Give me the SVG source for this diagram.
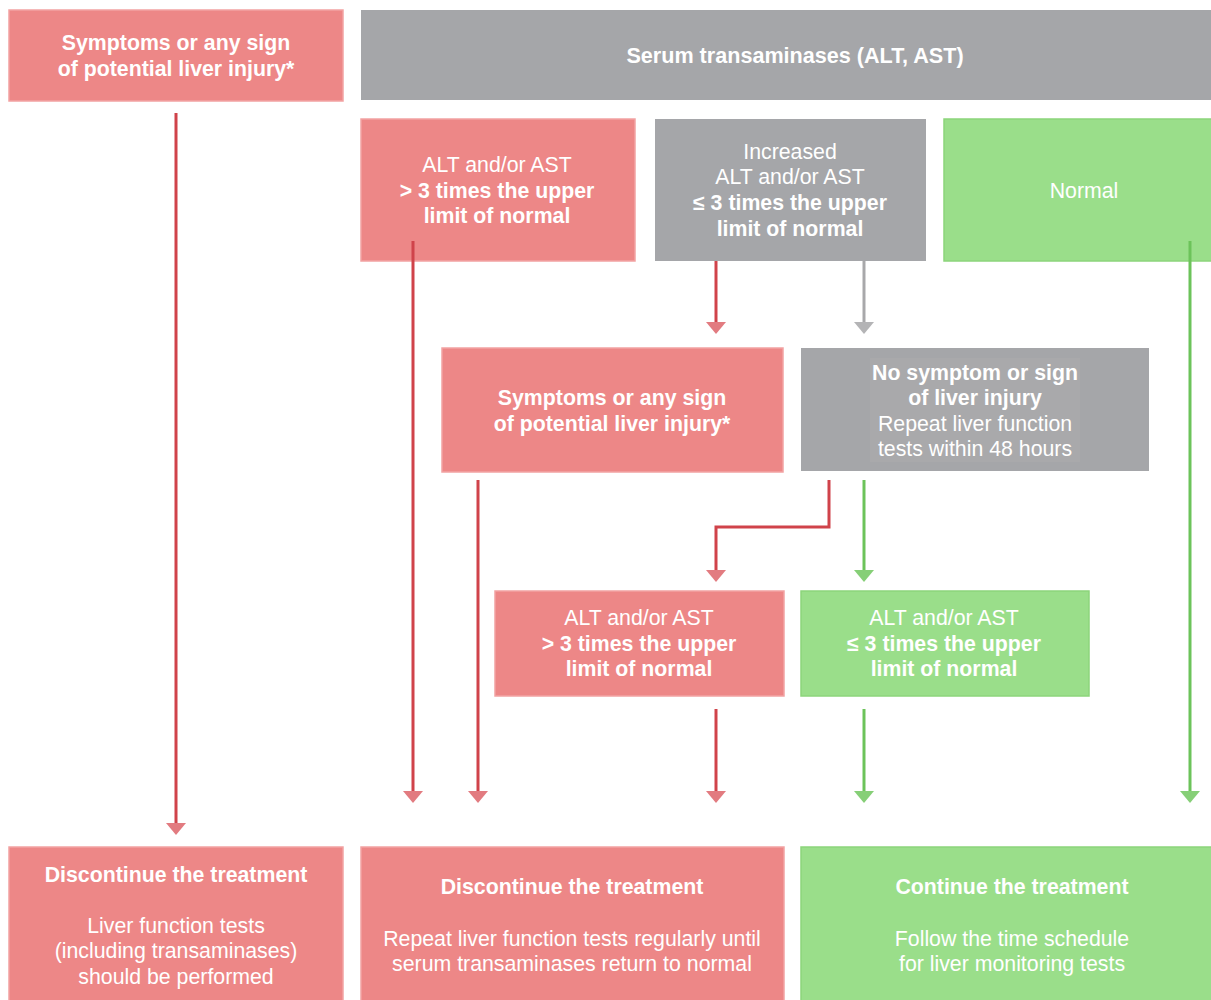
<svg xmlns="http://www.w3.org/2000/svg" width="1211" height="1000" viewBox="0 0 1211 1000">
<defs>
<style>
.pink{fill:#ed8787;stroke:#f2a3a3;stroke-width:1.5}
.grey{fill:#a5a6a9}
.green{fill:#9ade8a;stroke:#8cd57b;stroke-width:1.5}
text{font-family:"Liberation Sans",Arial,sans-serif;font-size:21.3px;fill:#ffffff;text-anchor:middle}
.b{font-weight:bold}
.h{font-size:21.6px}
.lr{stroke:#d0434a;stroke-width:3;fill:none}
.lg{stroke:#a8a8aa;stroke-width:3;fill:none}
.ln{stroke:#6cc35a;stroke-width:3;fill:none}
.hr{fill:#e27b80}
.hg{fill:#b4b4b6}
.hn{fill:#86cf77}
</style>
</defs>
<rect width="1211" height="1000" fill="#ffffff"/>
<g id="n1"><rect class="pink" x="9" y="10" width="334" height="91"/>
<text class="b" x="176" y="50">Symptoms or any sign</text>
<text class="b" x="176" y="76">of potential liver injury*</text></g>
<g id="n2"><rect class="grey" x="361" y="10" width="850" height="90"/>
<text class="b h" x="795" y="63">Serum transaminases (ALT, AST)</text></g>
<g id="n3"><rect class="pink" x="361" y="119" width="274" height="142"/>
<text x="497" y="172">ALT and/or AST</text>
<text class="b" x="497" y="198">&gt; 3 times the upper</text>
<text class="b" x="497" y="223">limit of normal</text></g>
<g id="n4"><rect class="grey" x="655" y="119" width="271" height="142"/>
<text x="790" y="159">Increased</text>
<text x="790" y="184">ALT and/or AST</text>
<text class="b" x="790" y="210">≤ 3 times the upper</text>
<text class="b" x="790" y="236">limit of normal</text></g>
<g id="n5"><rect class="green" x="944" y="119" width="268" height="142"/>
<text x="1084" y="198">Normal</text></g>
<g id="n6"><rect class="pink" x="442" y="348" width="341" height="124"/>
<text class="b" x="612" y="405">Symptoms or any sign</text>
<text class="b" x="612" y="431">of potential liver injury*</text></g>
<g id="n7"><rect class="grey" x="801" y="348" width="348" height="123"/>
<rect x="870" y="358" width="210" height="104" fill="#a9a9ab"/>
<text class="b" x="975" y="380">No symptom or sign</text>
<text class="b" x="975" y="405">of liver injury</text>
<text x="975" y="431">Repeat liver function</text>
<text x="975" y="456">tests within 48 hours</text></g>
<g id="n8"><rect class="pink" x="495" y="591" width="289" height="105"/>
<text x="639" y="625">ALT and/or AST</text>
<text class="b" x="639" y="651">&gt; 3 times the upper</text>
<text class="b" x="639" y="676">limit of normal</text></g>
<g id="n9"><rect class="green" x="801" y="591" width="288" height="105"/>
<text x="944" y="625">ALT and/or AST</text>
<text class="b" x="944" y="651">≤ 3 times the upper</text>
<text class="b" x="944" y="676">limit of normal</text></g>
<g id="n10"><rect class="pink" x="9" y="847" width="334" height="160"/>
<text class="b" x="176" y="882">Discontinue the treatment</text>
<text x="176" y="933">Liver function tests</text>
<text x="176" y="958">(including transaminases)</text>
<text x="176" y="984">should be performed</text></g>
<g id="n11"><rect class="pink" x="361" y="847" width="423" height="160"/>
<text class="b" x="572" y="894">Discontinue the treatment</text>
<text x="572" y="946">Repeat liver function tests regularly until</text>
<text x="572" y="971">serum transaminases return to normal</text></g>
<g id="n12"><rect class="green" x="801" y="847" width="411" height="160"/>
<text class="b" x="1012" y="894">Continue the treatment</text>
<text x="1012" y="946">Follow the time schedule</text>
<text x="1012" y="971">for liver monitoring tests</text></g>
<g id="connectors">
<path class="lr" d="M176 113V823"/><polygon class="hr" points="166,823 186,823 176,835"/>
<path class="lr" d="M413 241V791"/><polygon class="hr" points="403,791 423,791 413,803"/>
<path class="lr" d="M478 480V791"/><polygon class="hr" points="468,791 488,791 478,803"/>
<path class="lr" d="M716 261V322"/><polygon class="hr" points="706,322 726,322 716,334"/>
<path class="lg" d="M864 261V322"/><polygon class="hg" points="854,322 874,322 864,334"/>
<path class="lr" d="M829 480V527H716V570"/><polygon class="hr" points="706,570 726,570 716,582"/>
<path class="ln" d="M864 480V570"/><polygon class="hn" points="854,570 874,570 864,582"/>
<path class="lr" d="M716 709V791"/><polygon class="hr" points="706,791 726,791 716,803"/>
<path class="ln" d="M864 709V791"/><polygon class="hn" points="854,791 874,791 864,803"/>
<path class="ln" d="M1190 241V791"/><polygon class="hn" points="1180,791 1200,791 1190,803"/>
</g>
</svg>
